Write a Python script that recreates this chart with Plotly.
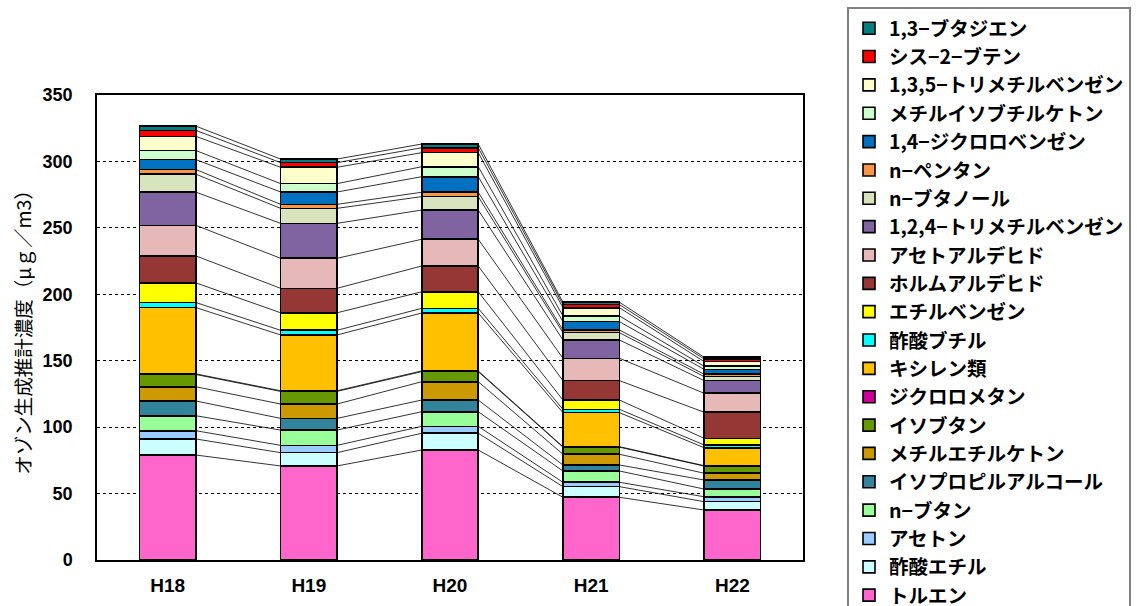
import plotly.graph_objects as go
import numpy as np

years = ["H18", "H19", "H20", "H21", "H22"]

# values per year (bottom of stack -> top of stack)
toluene       = [79.0, 70.8, 82.8, 47.2, 37.6]
ethyl_acetate = [12.1, 10.0, 12.6, 8.0, 6.3]
acetone       = [6.2, 5.5, 5.2, 3.3, 3.7]
n_butane      = [11.3, 11.5, 11.0, 8.5, 5.8]
isopropanol   = [11.1, 8.8, 8.8, 4.5, 6.8]
mek           = [10.7, 10.8, 13.8, 8.1, 5.1]
isobutane     = [9.2, 9.5, 7.6, 5.3, 5.4]
dichloromethane = [0.5, 0.5, 0.5, 0.4, 0.3]
xylenes       = [49.9, 42.0, 43.6, 25.6, 13.5]
butyl_acetate = [3.8, 3.5, 3.5, 2.5, 2.1]
ethylbenzene  = [14.8, 13.2, 12.5, 7.0, 5.0]
formaldehyde  = [20.3, 18.4, 19.4, 14.6, 19.6]
acetaldehyde  = [23.0, 22.6, 20.1, 16.8, 14.3]
tmb124        = [25.0, 26.3, 22.0, 13.8, 9.5]
n_butanol     = [13.5, 11.3, 10.1, 5.5, 3.0]
n_pentane     = [3.5, 3.0, 3.3, 2.0, 1.8]
dcb14         = [7.5, 9.3, 11.7, 6.3, 3.7]
mibk          = [6.8, 6.3, 7.5, 4.3, 2.3]
tmb135        = [10.7, 12.3, 10.6, 6.2, 3.5]
cis2butene    = [4.5, 3.5, 3.7, 2.3, 2.0]
butadiene     = [3.2, 2.7, 2.8, 1.8, 1.3]

series_names = [
    "トルエン", "酢酸エチル", "アセトン", "n−ブタン", "イソプロピルアルコール",
    "メチルエチルケトン", "イソブタン", "ジクロロメタン", "キシレン類", "酢酸ブチル",
    "エチルベンゼン", "ホルムアルデヒド", "アセトアルデヒド", "1,2,4−トリメチルベンゼン",
    "n−ブタノール", "n−ペンタン", "1,4−ジクロロベンゼン", "メチルイソブチルケトン",
    "1,3,5−トリメチルベンゼン", "シス−2−ブテン", "1,3−ブタジエン",
]
series_values = [
    toluene, ethyl_acetate, acetone, n_butane, isopropanol, mek, isobutane,
    dichloromethane, xylenes, butyl_acetate, ethylbenzene, formaldehyde,
    acetaldehyde, tmb124, n_butanol, n_pentane, dcb14, mibk, tmb135,
    cis2butene, butadiene,
]
colors = [
    "#FF66CC", "#CCFFFF", "#99CCFF", "#99FF99", "#31849B",
    "#CC9900", "#669900", "#CC0099", "#FFC000", "#00FFFF",
    "#FFFF00", "#953735", "#E6B9B8", "#8064A2",
    "#D7E4BD", "#F79646", "#0070C0", "#CCFFCC",
    "#FFFFCC", "#FF0000", "#008080",
]

BAR_W = 0.4
xs = list(range(len(years)))

fig = go.Figure()
for name, vals, col in zip(series_names, series_values, colors):
    fig.add_trace(go.Bar(
        x=xs, y=vals, name=name, width=BAR_W,
        marker=dict(color=col, line=dict(color="black", width=1.6)),
    ))

# connector lines between stacked segment boundaries
cum = np.cumsum(np.array(series_values), axis=0)
lx, ly = [], []
for level in cum:
    for i in range(len(years) - 1):
        lx += [xs[i] + BAR_W / 2, xs[i + 1] - BAR_W / 2, None]
        ly += [float(level[i]), float(level[i + 1]), None]
fig.add_trace(go.Scatter(
    x=lx, y=ly, mode="lines", line=dict(color="black", width=0.8),
    showlegend=False, hoverinfo="skip",
))

ytick_font = dict(family="Liberation Sans", size=18, color="black", weight="bold")
xtick_font = dict(family="Liberation Sans", size=19, color="black", weight="bold")

fig.update_layout(
    template="none",
    width=1137, height=606,
    barmode="stack",
    paper_bgcolor="white", plot_bgcolor="white",
    margin=dict(l=97, r=334, t=95, b=46, autoexpand=False),
    showlegend=True,
    legend=dict(
        traceorder="reversed",
        xref="container", yref="container",
        x=847 / 1137, y=1 - 7 / 606, xanchor="left", yanchor="top",
        font=dict(family="Noto Sans CJK JP", size=19.5, color="black", weight="bold"),
        bgcolor="white", bordercolor="#808080", borderwidth=2,
        tracegroupgap=0, maxheight=1000,
    ),
    xaxis=dict(
        tickmode="array", tickvals=xs, ticktext=years,
        range=[-0.5, len(years) - 0.5],
        showline=True, linecolor="black", linewidth=1.5, mirror=True,
        showgrid=False, zeroline=False, automargin=False,
        tickfont=xtick_font, ticks="", ticklabelstandoff=7,
    ),
    yaxis=dict(
        range=[0, 350], dtick=50, tick0=0,
        showline=True, linecolor="black", linewidth=1.5, mirror=True,
        showgrid=True, gridcolor="black", gridwidth=1, griddash="dot",
        zeroline=False, automargin=False,
        tickfont=ytick_font, ticks="", ticklabelstandoff=19,
        title=dict(
            text="オゾン生成推計濃度（μｇ／m3）",
            font=dict(family="Noto Sans CJK JP", size=19.5, color="black"),
            standoff=6,
        ),
    ),
)

fig.write_html(
    "out.html",
    config={"displayModeBar": False},
    post_script="document.body.style.margin='0px';",
)
